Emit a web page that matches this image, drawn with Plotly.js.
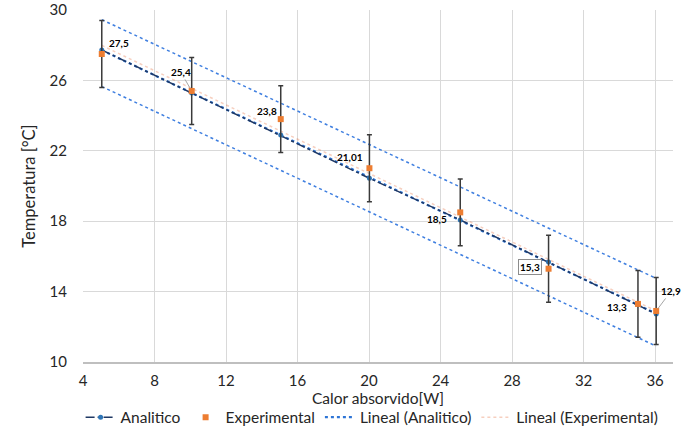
<!DOCTYPE html>
<html>
<head>
<meta charset="utf-8">
<script src="https://cdn.plot.ly/plotly-3.0.1.min.js"></script>
<style>html,body{margin:0;padding:0;background:#fff;}#chart{width:691px;height:432px;}</style>
</head>
<body>
<div id="chart"></div>
<script>
// ---- data ----
const calorX = [5.05, 10.08, 15.06, 20.02, 25.1, 30.04, 35.04, 36.06];
const analitico = [27.73, 25.28, 22.9, 20.44, 18.07, 15.68, 13.25, 12.73];
const experimental = [27.5, 25.4, 23.8, 21.01, 18.5, 15.3, 13.3, 12.9];
const expError = [1.9, 1.9, 1.9, 1.9, 1.9, 1.9, 1.9, 1.9];
const labelText = ['27,5', '25,4', '23,8', '21,01', '18,5', '15,3', '13,3', '12,9'];
const bandX = [5.05, 36.06];
const bandUpper = [29.45, 14.75];
const bandLower = [25.65, 10.9];
const xTicks = [4, 8, 12, 16, 20, 24, 28, 32, 36];
const yTicks = [10, 14, 18, 22, 26, 30];

// least-squares trendline (as the spreadsheet's "Lineal" trendline)
function linfit(xs, ys) {
  const n = xs.length;
  const mx = xs.reduce((a, b) => a + b, 0) / n;
  const my = ys.reduce((a, b) => a + b, 0) / n;
  let sxy = 0, sxx = 0;
  for (let i = 0; i < n; i++) { sxy += (xs[i] - mx) * (ys[i] - my); sxx += (xs[i] - mx) ** 2; }
  const m = sxy / sxx, b = my - m * mx;
  const x0 = Math.min(...xs), x1 = Math.max(...xs);
  return { x: [x0, x1], y: [m * x0 + b, m * x1 + b] };
}
const trendA = linfit(calorX, analitico);
const trendE = linfit(calorX, experimental);

const FONT = 'Lato, "Open Sans", sans-serif';
const TXT = '#262626';

const traces = [
  { x: bandX, y: bandUpper, mode: 'lines', showlegend: false, hoverinfo: 'skip',
    line: { color: '#3f7fe0', width: 1.5, dash: 'dot' } },
  { x: bandX, y: bandLower, mode: 'lines', showlegend: false, hoverinfo: 'skip',
    line: { color: '#3f7fe0', width: 1.5, dash: 'dot' } },
  { name: 'Lineal (Experimental)', legendrank: 4, x: trendE.x, y: trendE.y, mode: 'lines',
    opacity: 0.3, line: { color: '#e0602a', width: 1.5, dash: 'dot' } },
  { name: 'Lineal (Analitico)', legendrank: 3, x: trendA.x, y: trendA.y, mode: 'lines',
    line: { color: '#2e75d6', width: 2.2, dash: 'dot' } },
  { name: 'Analitico', legendrank: 1, x: calorX, y: analitico, mode: 'lines+markers',
    line: { color: '#1f3864', width: 1.5, dash: 'dashdot' },
    marker: { color: '#2e75b6', size: 5, symbol: 'circle' } },
  { name: 'Experimental', legendrank: 2, x: calorX, y: experimental, mode: 'markers',
    marker: { color: '#ed7d31', size: 6, symbol: 'square' },
    error_y: { type: 'data', array: expError, visible: true, color: '#3a3a3a', thickness: 1.5, width: 2.5 } }
];

// label placement (pixel offsets), kept apart from the data
const labelPlace = [
  { dx: 17, dy: 11 }, { ax: -11, ay: -19, arrow: true }, { dx: -14, dy: 8 }, { dx: -19, dy: 11 },
  { dx: -23, dy: -7 }, { dx: -19, dy: 2, box: true }, { dx: -21, dy: -3 }, { ax: 15, ay: -20, arrow: true }
];
const annotations = calorX.map((x, i) => {
  const p = labelPlace[i];
  const a = { x: x, y: experimental[i], xref: 'x', yref: 'y', text: labelText[i],
    font: { family: FONT, size: 10, color: '#000', weight: 'bold' } };
  if (p.arrow) {
    Object.assign(a, { showarrow: true, ax: p.ax, ay: p.ay, arrowhead: 0, arrowwidth: 1,
      arrowcolor: '#a6a6a6', standoff: 3, startstandoff: 0 });
  } else {
    Object.assign(a, { showarrow: false, xshift: p.dx, yshift: p.dy });
  }
  if (p.box) Object.assign(a, { bordercolor: '#8c8c8c', borderwidth: 1, borderpad: 1, bgcolor: '#fff' });
  return a;
});

const layout = {
  width: 691, height: 432,
  margin: { l: 83, r: 18, t: 10, b: 70, autoexpand: false },
  paper_bgcolor: '#fff', plot_bgcolor: '#fff',
  font: { family: FONT, color: TXT, size: 15 },
  showlegend: true,
  legend: { orientation: 'h', x: 0.49, xanchor: 'center', y: -0.158, yanchor: 'middle',
    font: { family: FONT, size: 15.5, color: TXT }, itemwidth: 30, tracegroupgap: 0,
    bgcolor: 'rgba(0,0,0,0)' },
  xaxis: {
    range: [4, 37], tickvals: xTicks, ticktext: xTicks.map(String),
    showgrid: true, gridcolor: '#d9d9d9', gridwidth: 1,
    zeroline: false, showline: true, linecolor: '#bfbfbf', linewidth: 1.5,
    ticks: 'outside', ticklen: 4, tickcolor: 'rgba(0,0,0,0)',
    tickfont: { family: FONT, size: 15, color: TXT },
    title: { text: 'Calor absorvido[W]', font: { family: FONT, size: 15.5, color: TXT }, standoff: 5 }
  },
  yaxis: {
    range: [10, 30], tickvals: yTicks, ticktext: yTicks.map(String),
    showgrid: true, gridcolor: '#d9d9d9', gridwidth: 1,
    zeroline: false, showline: false,
    ticks: 'outside', ticklen: 12, tickcolor: 'rgba(0,0,0,0)',
    tickfont: { family: FONT, size: 15, color: TXT },
    title: { text: 'Temperatura [°C]', font: { family: FONT, size: 16.5, color: TXT }, standoff: 9 }
  },
  annotations: annotations
};

Plotly.newPlot('chart', traces, layout, { displayModeBar: false, staticPlot: true });
</script>
</body>
</html>
